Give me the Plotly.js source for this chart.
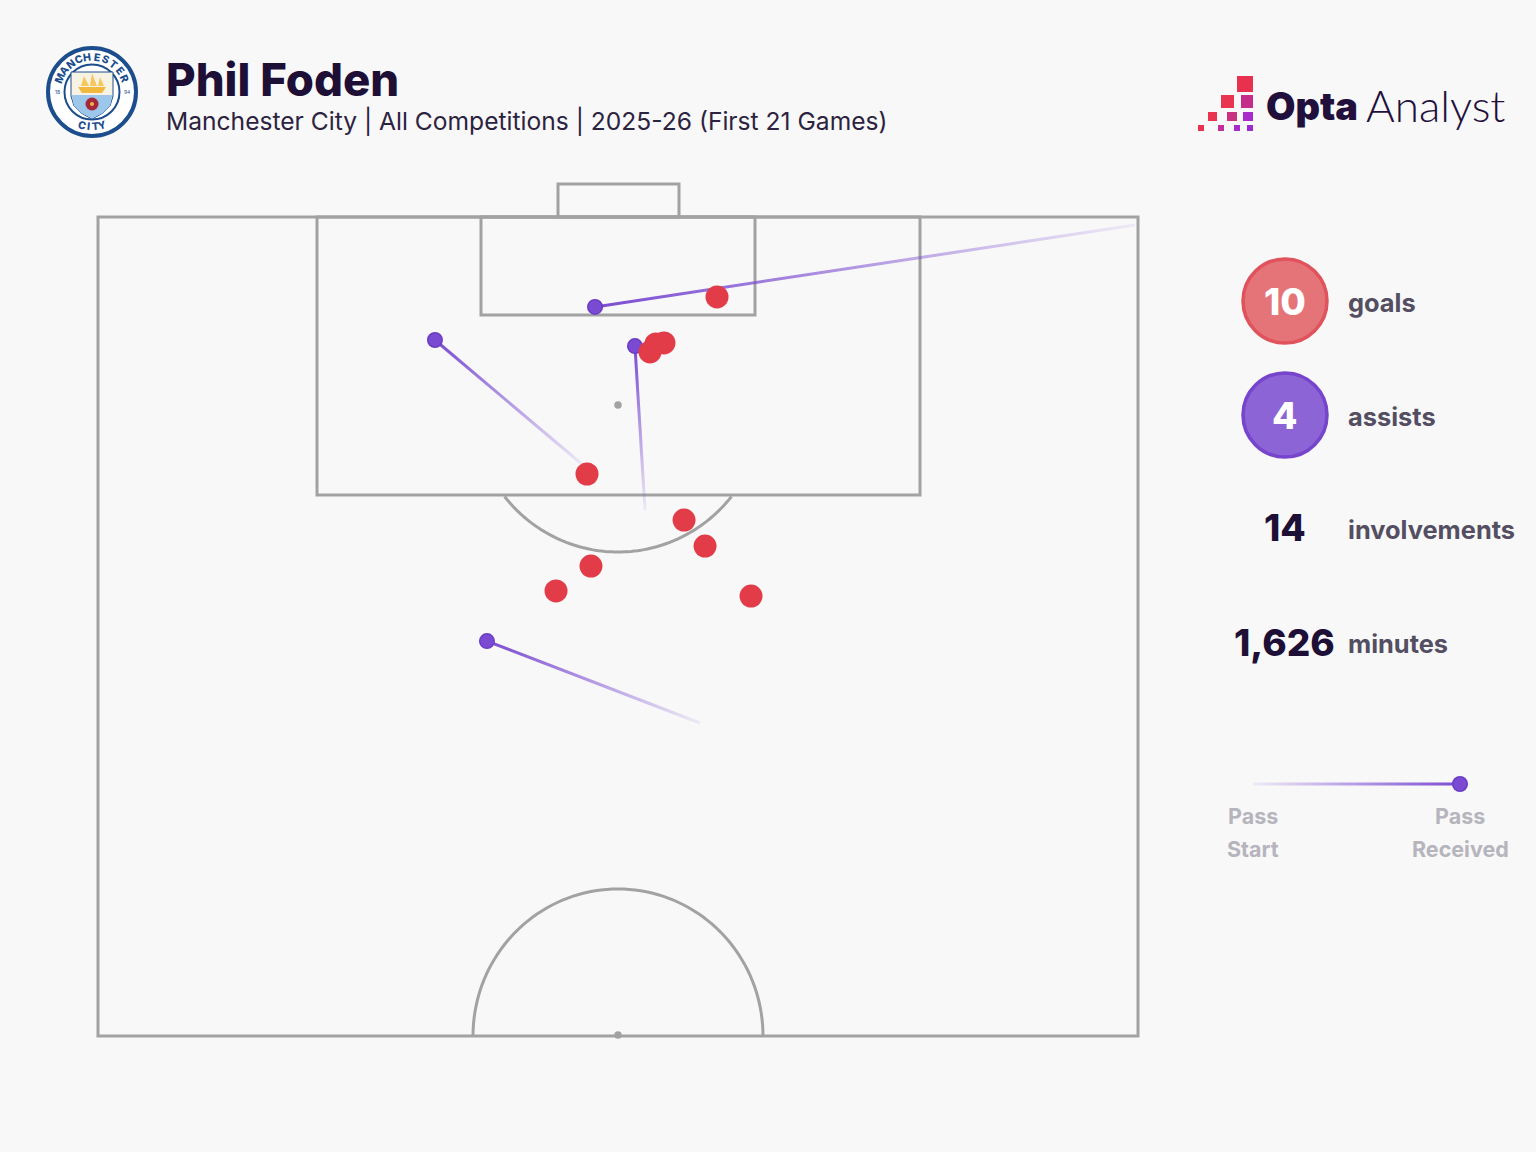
<!DOCTYPE html>
<html>
<head>
<meta charset="utf-8">
<script src="https://cdn.plot.ly/plotly-3.0.1.min.js"></script>
<style>html,body{margin:0;padding:0;background:#f8f8f8}#c{width:1536px;height:1152px}</style>
</head>
<body>
<div id="c"></div>
<script>
// Event locations in pitch units: width 0-100, length 50-100 (attacking goal at 100)
const goalWidth  = [59.52,53.65,54.42,53.08,47.02,56.35,58.37,47.40,44.04,62.79];
const goalLength = [95.12,92.25,92.31,91.76,84.31,81.50,79.91,78.69,77.17,76.86];
const assistEndWidth    = [47.79,32.40,51.63,37.40];
const assistEndLength   = [94.51,92.49,92.12,74.11];
const assistStartWidth  = [99.71,46.63,52.60,57.88];
const assistStartLength = [99.51,84.86,82.11,69.11];
const statValues = ["10","4","14","1,626"];
const statLabels = ["goals","assists","involvements","minutes"];
const playerName = "Phil Foden";
const subtitle = "Manchester City | All Competitions | 2025-26 (First 21 Games)";

const W=1536,H=1152, PL=98,PR=1138,PT=217,PB=1036;
const pxX=x=>(x-PL)*100/(PR-PL);
const pxY=y=>100-(y-PT)*50/(PB-PT);
const fx=x=>x/W, fy=y=>1-y/H;
const LINE='#a2a2a2', PURPLE='#7a4bd2', RED='#e13c48', INK='#1d0f36', GREY='#544e62', LIGHT='#b6b4bc';
const NUM='Inter, sans-serif';

const shapes=[], annotations=[];
const rect=(a,b,c,d)=>shapes.push({type:'rect',xref:'x',yref:'y',x0:pxX(a),x1:pxX(c),y0:pxY(b),y1:pxY(d),line:{color:LINE,width:3},fillcolor:'rgba(0,0,0,0)',layer:'below'});
rect(PL,PT,PR,PB);
rect(317,PT,920,495);
rect(481,PT,755,315);
rect(558,184,679,PT);
function arc(cx,cy,rx,ry,a0,a1){
  let d='';
  for(let i=0;i<=80;i++){
    const t=(a0+(a1-a0)*i/80)*Math.PI/180;
    d+=(i?'L':'M')+pxX(cx+rx*Math.cos(t))+','+pxY(cy+ry*Math.sin(t));
  }
  return d;
}
const arcShape=p=>shapes.push({type:'path',xref:'x',yref:'y',path:p,line:{color:LINE,width:3},layer:'below'});
arcShape(arc(618,405,145,147,38.5,141.5));
arcShape(arc(618,1036,145,147,180,360));

// paper-referenced decorations (pixel helpers)
const poly=(pts,fill,line)=>shapes.push({type:'path',xref:'paper',yref:'paper',
  path:pts.map((p,i)=>(i?'L':'M')+fx(p[0])+','+fy(p[1])).join('')+'Z',fillcolor:fill,line:line||{width:0}});
const circ=(cx,cy,r,fill,lc,lw)=>shapes.push({type:'circle',xref:'paper',yref:'paper',x0:fx(cx-r),x1:fx(cx+r),y0:fy(cy+r),y1:fy(cy-r),fillcolor:fill,line:lc?{color:lc,width:lw}:{width:0}});
const box=(a,b,c,d,fill)=>poly([[a,b],[c,b],[c,d],[a,d]],fill);
const text=(s,x,y,size,color,opt={})=>annotations.push(Object.assign({xref:'paper',yref:'paper',x:fx(x),y:fy(y),text:s,showarrow:false,xanchor:'left',yanchor:'middle',borderpad:0,
  font:{family:opt.family||NUM,size,color,weight:opt.weight||400}},opt.extra||{}));

// crest
circ(92,92,44,'#ffffff','#1c4e8e',4);
circ(92,92,27.5,'#ffffff','#1c4e8e',2);
poly([[71,72],[113,72],[113,96],[110,106],[103,113],[92,119],[81,113],[74,106],[71,96]],'#f7f3e4',{color:'#1c4e8e',width:1});
poly([[71.5,95],[112.5,95],[110,106],[103,113],[92,118.5],[81,113],[74,106]],'#9cc7ea');
poly([[78,87],[106,87],[102,93],[82,93]],'#f1b93f');
poly([[81,86],[84,76],[89,86]],'#f5c85e');poly([[90,86],[92,73],[97,86]],'#f5c85e');poly([[98,86],[100,77],[104,86]],'#f5c85e');
circ(92,104,6.5,'#a5283a');
circ(92,104,2,'#f1b93f');
const ring=(s,r,a0,a1,size)=>[...s].forEach((ch,i)=>{
  const a=a0+(a1-a0)*i/(s.length-1), t=a*Math.PI/180;
  text(ch,92+r*Math.sin(t),92-r*Math.cos(t),size,'#1c4e8e',{weight:800,extra:{xanchor:'center',textangle:a>90?a-180:a}});
});
ring('MANCHESTER',35,-67,67,10.5);
ring('CITY',35,197,163,10.5);
text('18',57,92,5,'#1c4e8e',{extra:{xanchor:'center'}});
text('94',127,92,5,'#1c4e8e',{extra:{xanchor:'center'}});

// header
text(playerName,165,80,45.5,INK,{weight:800});
text(subtitle,165,121,24.6,'#2c2340',{weight:400});

// Opta Analyst logo
box(1237,76,1253,92,'#e8304f');
box(1221,95,1234,108,'#e8344f');box(1241,95,1253,108,'#c42e8a');
box(1208,112,1217,121,'#e8344f');box(1227,112,1237,121,'#c83080');box(1243,112,1253,121,'#a82ccc');
box(1198,125,1204,131,'#e83050');box(1218,125,1224,131,'#c030a0');box(1234,125,1240,131,'#a82ccc');box(1247,125,1253,131,'#9a2cd0');
text('Opta',1265,106,38,'#22103c',{weight:900});
text('Analyst',1365,105,44,'#22103c',{weight:300,family:'Lato, sans-serif'});

// stats panel
circ(1285,301,42,'#e57479','#e0535c',3.5);
circ(1285,415,42,'#8d64d6','#7645cc',3.5);
const statY=[301,415,528,642];
const statColor=['#ffffff','#ffffff',INK,INK];
statValues.forEach((v,i)=>text(v,1284.5,statY[i],37,statColor[i],{weight:800,extra:{xanchor:'center'}}));
statLabels.forEach((v,i)=>text(v,1347,statY[i]+1,25.4,GREY,{weight:700}));
[['Pass',1253,816],['Start',1253,849],['Pass',1460,816],['Received',1460,849]].forEach(a=>
  text(a[0],a[1],a[2],21.5,LIGHT,{weight:700,extra:{xanchor:'center'}}));

const traces=[];
assistEndWidth.forEach((_,i)=>traces.push({type:'scatter',mode:'lines',cliponaxis:false,hoverinfo:'skip',
  x:[assistStartWidth[i],assistEndWidth[i]],y:[assistStartLength[i],assistEndLength[i]],
  line:{color:PURPLE,width:3}}));
traces.push({type:'scatter',mode:'lines',cliponaxis:false,hoverinfo:'skip',x:[pxX(1253),pxX(1460)],y:[pxY(784),pxY(784)],line:{color:PURPLE,width:3}});
traces.push({type:'scatter',mode:'markers',cliponaxis:false,hoverinfo:'skip',x:[pxX(618),pxX(618)],y:[pxY(405),pxY(1035)],marker:{size:7.5,color:'#a2a2a2'}});
traces.push({type:'scatter',mode:'markers',cliponaxis:false,x:assistEndWidth.concat([pxX(1460)]),y:assistEndLength.concat([pxY(784)]),
  marker:{size:14.5,color:PURPLE,line:{color:'#6a3cc4',width:1.5}}});
traces.push({type:'scatter',mode:'markers',cliponaxis:false,x:goalWidth,y:goalLength,marker:{size:23,color:RED,line:{width:0}}});

const layout={width:W,height:H,margin:{l:0,r:0,t:0,b:0},paper_bgcolor:'#f8f8f8',plot_bgcolor:'#f8f8f8',showlegend:false,
  xaxis:{range:[pxX(0),pxX(W)],visible:false,fixedrange:true},
  yaxis:{range:[pxY(H),pxY(0)],visible:false,fixedrange:true},
  shapes,annotations};

Plotly.newPlot('c',traces,layout,{displayModeBar:false,staticPlot:true}).then(gd=>{
  const svg=gd.querySelector('.main-svg');
  const NS='http://www.w3.org/2000/svg';
  const defs=svg.querySelector('defs')||svg.insertBefore(document.createElementNS(NS,'defs'),svg.firstChild);
  gd.querySelectorAll('.scatterlayer .trace .js-line').forEach((p,i)=>{
    const m=p.getAttribute('d').match(/M\s*([-\d.]+)[ ,]([-\d.]+)\s*L\s*([-\d.]+)[ ,]([-\d.]+)/);
    if(!m) return;
    const g=document.createElementNS(NS,'linearGradient');
    g.id='fade'+i;
    g.setAttribute('gradientUnits','userSpaceOnUse');
    g.setAttribute('x1',m[1]);g.setAttribute('y1',m[2]);g.setAttribute('x2',m[3]);g.setAttribute('y2',m[4]);
    [[0,0.08],[1,1]].forEach(s=>{
      const st=document.createElementNS(NS,'stop');
      st.setAttribute('offset',s[0]);st.setAttribute('stop-color',PURPLE);st.setAttribute('stop-opacity',s[1]);
      g.appendChild(st);
    });
    defs.appendChild(g);
    p.style.stroke='url(#fade'+i+')';
  });
});
</script>
</body>
</html>
